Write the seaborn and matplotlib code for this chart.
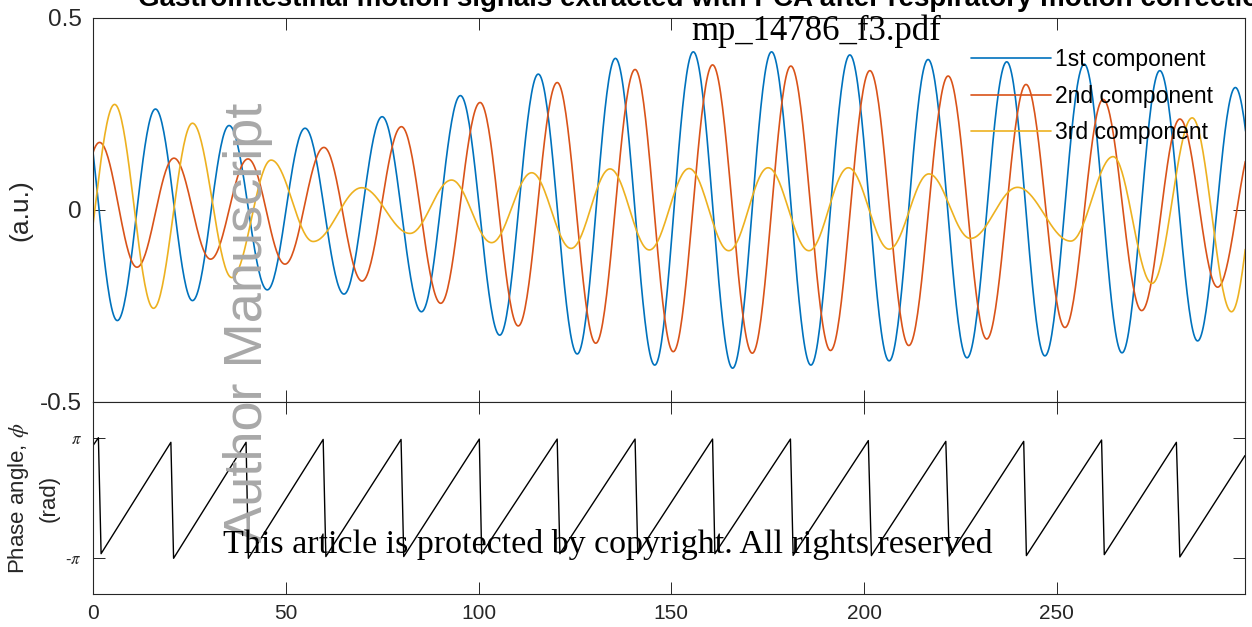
import numpy as np
import pandas as pd
import matplotlib
matplotlib.use("Agg")
import matplotlib.pyplot as plt
import seaborn as sns

# ---------------- data ----------------
# extrema (time, amplitude) of each PCA component
comp1_t = [-3.7, 6.3, 16.2, 25.8, 35.3, 45.2, 55.0, 65.1, 75.0, 85.2, 95.3, 105.5, 115.5, 125.6,
           135.5, 145.7, 155.7, 165.9, 176.0, 186.2, 196.3, 206.5, 216.6, 226.7, 237.0, 246.9,
           257.1, 266.9, 276.7, 286.5, 296.3, 306.0]
comp1_v = [0.34, -0.288, 0.263, -0.236, 0.22, -0.208, 0.213, -0.219, 0.243, -0.265, 0.298, -0.326,
           0.354, -0.375, 0.395, -0.404, 0.412, -0.412, 0.412, -0.404, 0.404, -0.393, 0.392, -0.385,
           0.386, -0.38, 0.380, -0.372, 0.363, -0.341, 0.319, -0.33]

comp2_t = [-8.0, 1.7, 11.4, 21.0, 30.5, 40.2, 49.8, 59.9, 69.8, 80.0, 90.2, 100.4, 110.3, 120.4,
           130.4, 140.6, 150.5, 160.7, 171.0, 181.0, 191.3, 201.5, 211.6, 221.8, 231.8, 242.0,
           252.1, 262.0, 272.0, 281.9, 291.7, 301.6]
comp2_v = [-0.18, 0.176, -0.149, 0.135, -0.128, 0.133, -0.141, 0.163, -0.185, 0.217, -0.243, 0.28,
           -0.302, 0.332, -0.347, 0.366, -0.369, 0.378, -0.373, 0.375, -0.366, 0.363, -0.353, 0.349,
           -0.336, 0.327, -0.306, 0.288, -0.262, 0.237, -0.201, 0.196]

comp3_t = [-4.5, 5.6, 15.7, 25.8, 36.0, 46.2, 57.1, 69.7, 82.2, 93.0, 103.4, 113.8, 124.0, 134.1,
           144.3, 154.6, 164.9, 175.1, 185.7, 195.9, 206.5, 216.8, 227.6, 239.8, 253.6, 264.6,
           274.7, 285.1, 295.3, 305.5]
comp3_v = [-0.26, 0.275, -0.256, 0.226, -0.176, 0.130, -0.082, 0.058, -0.061, 0.078, -0.085, 0.097,
           -0.1, 0.107, -0.104, 0.108, -0.106, 0.110, -0.106, 0.110, -0.102, 0.094, -0.074, 0.059,
           -0.081, 0.139, -0.191, 0.240, -0.265, 0.33]

labels = ["1st component", "2nd component", "3rd component"]

# phase angle vertices (time, rad)
phase_t = [0, 1.4, 2.1, 20.2, 20.9, 39.7, 40.3, 59.7, 60.4, 79.9, 80.6, 100.2, 100.8, 120.4, 121.1,
           140.6, 141.3, 160.7, 161.3, 180.9, 181.6, 201.1, 201.9, 221.2, 222.1, 241.4, 242.1,
           261.6, 262.3, 281.0, 281.9, 298.8]
phase_v = [2.73, 3.14, -2.90, 2.90, -3.14, 2.90, -3.14, 3.05, -3.05, 3.05, -3.05, 3.07, -2.90, 3.07,
           -2.90, 3.07, -2.90, 3.07, -2.90, 3.07, -2.99, 2.99, -3.0, 2.95, -3.02, 2.95, -3.0,
           3.02, -2.95, 2.90, -3.07, 2.21]

x_ticks = [0, 50, 100, 150, 200, 250]
top_yticks = [-0.5, 0, 0.5]
top_yticklabels = ["-0.5", "0", "0.5"]
phase_yticklabels = [r"-$\pi$", r"$\pi$"]

title = "Gastrointestinal motion signals extracted with PCA after respiratory motion correction"


def oscillation(ext_t, ext_v, n=40):
    """Draw the oscillation through the read extrema (half-cosine between extrema)."""
    ts, vs = [], []
    for i in range(len(ext_t) - 1):
        s = np.linspace(0, 1, n, endpoint=False)
        ts.append(ext_t[i] + (ext_t[i + 1] - ext_t[i]) * s)
        vs.append(ext_v[i] + (ext_v[i + 1] - ext_v[i]) * (1 - np.cos(np.pi * s)) / 2)
    ts.append([ext_t[-1]])
    vs.append([ext_v[-1]])
    return np.concatenate(ts), np.concatenate(vs)


frames = []
for lab, et, ev in zip(labels, [comp1_t, comp2_t, comp3_t], [comp1_v, comp2_v, comp3_v]):
    t, v = oscillation(et, ev)
    frames.append(pd.DataFrame({"t": t, "value": v, "component": lab}))
df = pd.concat(frames, ignore_index=True)
phase_df = pd.DataFrame({"t": phase_t, "phase": phase_v})

# ---------------- style ----------------
sns.set_style("ticks")
plt.rcParams["font.family"] = ["Liberation Sans", "DejaVu Sans"]
plt.rcParams["mathtext.fontset"] = "stix"
edge = "#262626"

W, H = 1252, 627
fig = plt.figure(figsize=(W / 100, H / 100), dpi=100)
ax1 = fig.add_axes([93 / W, 1 - 402 / H, 1152 / W, 384 / H])
ax2 = fig.add_axes([93 / W, 1 - 594 / H, 1152 / W, 192 / H])

colors = ["#0072BD", "#D95319", "#EDB120"]
for lab, col in zip(labels, colors):
    sns.lineplot(data=df[df["component"] == lab], x="t", y="value", color=col, linewidth=1.2,
                 estimator=None, sort=False, ax=ax1, label=lab)

sns.lineplot(data=phase_df, x="t", y="phase", color="black", linewidth=1.0,
             estimator=None, sort=False, ax=ax2)

xmax = 298.8
for ax in (ax1, ax2):
    ax.set_xlim(0, xmax)
    ax.set_xticks(x_ticks)
    ax.set_xlabel("")
    ax.set_ylabel("")
    ax.tick_params(direction="in", length=8.6, width=0.7, top=True, right=True,
                   colors=edge, labelsize=15, pad=7)
    for sp in ax.spines.values():
        sp.set_visible(True)
        sp.set_color(edge)
        sp.set_linewidth(0.8)

ax1.set_ylim(-0.5, 0.5)
ax1.set_yticks(top_yticks)
ax1.set_yticklabels(top_yticklabels, fontsize=17.5)
ax1.tick_params(labelbottom=False)
ax1.tick_params(axis="y", pad=8)

ax2.set_ylim(-5, 5)
ax2.set_yticks([-np.pi, np.pi])
ax2.set_yticklabels(phase_yticklabels, fontsize=12)
ax2.tick_params(axis="y", pad=8)
ax2.set_xticklabels([str(v) for v in x_ticks])

leg = ax1.legend(loc="upper left", bbox_to_anchor=((971 - 93) / 1152, (402 - 48) / 384),
                 frameon=False, fontsize=16.5, handlelength=3.5, handletextpad=0.15,
                 labelspacing=0.6, borderpad=0, borderaxespad=0)
for h in leg.get_lines():
    h.set_linewidth(1.2)
for txt in leg.get_texts():
    txt.set_color("black")

# y labels
fig.text(20 / W, 1 - 210 / H, "(a.u.)", rotation=90, ha="center", va="center",
         fontsize=19, color=edge)
fig.text(33 / W, 1 - 498 / H, "Phase angle, $\\phi$\n(rad)", rotation=90, ha="center",
         va="center", fontsize=16, color=edge, multialignment="center", linespacing=1.45)

# title (partially cut off at the top of the figure, as in the original)
fig.text(138 / W, 1 - 6 / H, title, ha="left", va="baseline", fontsize=20,
         fontweight="bold", color="black")

# watermarks
fig.text(816 / W, 1 - 31 / H, "mp_14786_f3.pdf", ha="center", va="center",
         fontsize=25, family="Liberation Serif", color="black")
fig.text(248 / W, 1 - 322 / H, "Author Manuscript", rotation=90, ha="center", va="center",
         fontsize=39, color="#a8a8a8")
fig.text(608 / W, 1 - 553 / H, "This article is protected by copyright. All rights reserved",
         ha="center", va="baseline", fontsize=24.5, family="Liberation Serif", color="black")

fig.savefig("out.png", dpi=100)
